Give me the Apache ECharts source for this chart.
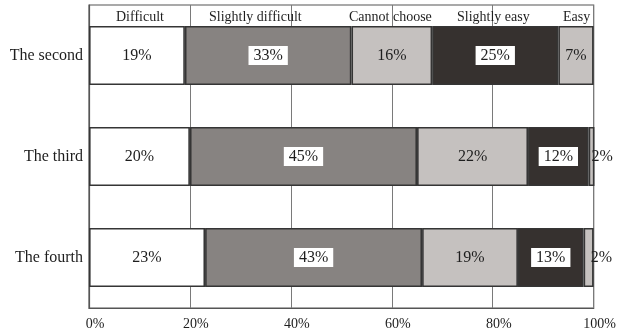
<!DOCTYPE html>
<html>
<head>
<meta charset="utf-8">
<script src="https://cdn.jsdelivr.net/npm/echarts@6/dist/echarts.min.js"></script>
<style>
  html, body { margin: 0; padding: 0; background: #fff; }
  #chart { width: 619px; height: 336px; }
</style>
</head>
<body>
<div id="chart"></div>
<script>
// Survey rows (top to bottom) and answer categories (left to right)
const rows = ['The second', 'The third', 'The fourth'];
const answers = ['Difficult', 'Slightly difficult', 'Cannot choose', 'Slightly easy', 'Easy'];

// Share of answers per row, in percent
const difficult = [19, 20, 23];
const slightlyDifficult = [33, 45, 43];
const cannotChoose = [16, 22, 19];
const slightlyEasy = [25, 12, 13];
const easy = [7, 2, 2];

const ticks = [0, 20, 40, 60, 80, 100];

const serif = '"Liberation Serif", "DejaVu Serif", serif';
const ink = '#1e1e1e';

const values = [difficult, slightlyDifficult, cannotChoose, slightlyEasy, easy];
const fills = ['#ffffff', '#878381', '#c5c1bf', '#36312f', '#c5c1bf'];
const boxed = [false, true, false, true, false];

// legend texts sit in the strip above the first bar
const legendLeft = [106, 199, 339, 447, 553];

const series = answers.map((name, i) => ({
  name: name,
  type: 'bar',
  stack: 'total',
  barWidth: 59,
  itemStyle: { color: fills[i], borderColor: '#353535', borderWidth: 1.6 },
  label: {
    show: true,
    position: 'inside',
    formatter: '{c}%',
    fontFamily: serif,
    fontSize: 16,
    color: ink,
    backgroundColor: boxed[i] ? '#ffffff' : 'transparent',
    padding: boxed[i] ? [2, 5, 1, 5] : 0
  },
  data: values[i].map(v => v < 5
    ? { value: v, label: { position: 'right', distance: -3 } }
    : v)
}));

const chart = echarts.init(document.getElementById('chart'));
chart.setOption({
  animation: false,
  backgroundColor: '#ffffff',
  grid: {
    left: 89, right: 25, top: 5, bottom: 28,
    show: true, borderColor: '#555', borderWidth: 1.2
  },
  legend: answers.map((name, i) => ({
    data: [name],
    left: legendLeft[i],
    top: 5,
    icon: 'none',
    itemWidth: 0,
    itemHeight: 0,
    selectedMode: false,
    textStyle: { fontFamily: serif, fontSize: 14, color: ink }
  })),
  xAxis: {
    type: 'value',
    min: ticks[0],
    max: ticks[ticks.length - 1],
    interval: ticks[1] - ticks[0],
    axisLine: { show: true, lineStyle: { color: '#555', width: 1.2 } },
    axisTick: { show: false },
    splitLine: { show: true, lineStyle: { color: '#7a7a7a', width: 1 } },
    axisLabel: {
      formatter: '{value}%',
      fontFamily: serif,
      fontSize: 14,
      color: ink,
      margin: 9,
      padding: [0, 0, 0, 12]
    }
  },
  yAxis: {
    type: 'category',
    inverse: true,
    data: rows,
    axisLine: { show: true, lineStyle: { color: '#555', width: 1.2 } },
    axisTick: { show: false },
    axisLabel: { fontFamily: serif, fontSize: 16, color: ink, margin: 6 }
  },
  series: series
});
</script>
</body>
</html>
